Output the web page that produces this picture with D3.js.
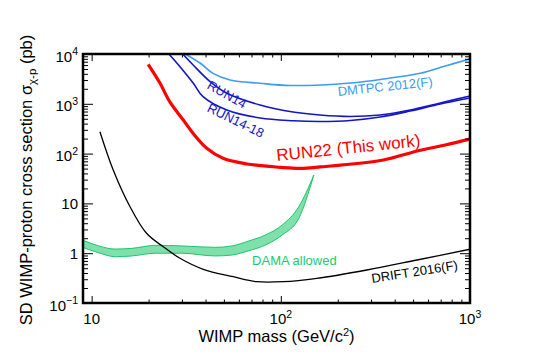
<!doctype html>
<html>
<head>
<script src="https://cdn.jsdelivr.net/npm/d3@7"></script>
<style>
body { margin: 0; background: #fff; }
svg { display: block; font-family: "Liberation Sans", Arial, sans-serif; }
</style>
</head>
<body>
<svg width="554" height="358"></svg>
<script>
// limits, mass in GeV/c^2, cross section in pb
var dmtpcMass  = [31.2, 37.4, 43.8, 53.9, 77.7, 112, 233, 379, 546, 740, 1000];
var dmtpcSigma = [10000, 6590, 4090, 3010, 2580, 2330, 2620, 3300, 4090, 5740, 7940];

var run14Mass  = [30.3, 34.4, 42.3, 51.8, 77.7, 116, 161, 233, 335, 483, 697, 1000];
var run14Sigma = [10000, 6010, 2780, 1630, 946, 684, 595, 556, 595, 751, 1040, 1440];

var run1418Mass  = [25.6, 29.3, 34.4, 38.8, 51.8, 77.7, 116, 161, 233, 335, 483, 697, 1000];
var run1418Sigma = [10000, 5560, 2620, 1390, 751, 519, 458, 442, 462, 543, 717, 990, 1310];

var run22Mass  = [19.9, 23.0, 25.9, 30.5, 34.4, 40.6, 49.5, 66.1, 99.2, 126, 161, 348, 526, 740, 1000];
var run22Sigma = [6210, 2580, 1090, 473, 254, 128, 80.5, 61.9, 53.1, 50.5, 53.9, 74.3, 113, 149, 196];

var driftMass  = [11.06, 13.0, 15.95, 19.5, 23.9, 29.3, 38.9, 56.1, 74.6, 103, 155, 285, 525, 1000];
var driftSigma = [275, 46.9, 8.59, 2.51, 1.35, 0.79, 0.475, 0.337, 0.268, 0.268, 0.313, 0.46, 0.73, 1.20];

var damaMass = [8.9, 10.9, 13.3, 16.3, 21.7, 30.0, 45.1, 55.2, 67.7, 82.9, 101.6, 124.5, 149.5];
var damaHigh = [1.85, 1.40, 1.21, 1.25, 1.44, 1.40, 1.31, 1.40, 1.76, 2.32, 3.68, 8.59, 37.2];
var damaLow  = [1.32, 1.02, 0.85, 0.88, 1.00, 1.00, 0.88, 0.92, 1.12, 1.46, 2.32, 5.02, 37.2];

var xMajor = [10, 100, 1000];
var xLabels = [["10", null], ["10", "2"], ["10", "3"]];
var yMajor = [0.1, 1, 10, 100, 1000, 10000];
var yLabels = [["10", "\u22121"], ["1", null], ["10", null], ["10", "2"], ["10", "3"], ["10", "4"]];

var svg = d3.select("svg");
var xScale = d3.scaleLog().domain([9, 1000]).range([83, 470]);
var yScale = d3.scaleLog().domain([0.1, 10000]).range([303, 54]);

function minorTicks(scale) {
  var dom = scale.domain(), out = [];
  for (var d = 0.01; d <= 10000; d *= 10) {
    for (var k = 2; k <= 9; k++) {
      var v = +(k * d).toPrecision(3);
      if (v >= dom[0] && v <= dom[1]) out.push(v);
    }
  }
  return out;
}

svg.append("defs").append("clipPath").attr("id", "plot")
  .append("rect").attr("x", 83).attr("y", 54).attr("width", 387).attr("height", 249);

var plot = svg.append("g").attr("clip-path", "url(#plot)");

// DAMA band
var band = d3.area()
  .x(function(d) { return xScale(d.m); })
  .y0(function(d) { return yScale(d.lo); })
  .y1(function(d) { return yScale(d.hi); })
  .curve(d3.curveMonotoneX);
var damaRows = damaMass.map(function(m, i) { return {m: m, lo: damaLow[i], hi: damaHigh[i]}; });
plot.append("path")
  .attr("d", band(damaRows))
  .attr("fill", "#7fe0ab")
  .attr("stroke", "#1fc46c")
  .attr("stroke-width", 1);

var line = d3.line()
  .x(function(d) { return xScale(d[0]); })
  .y(function(d) { return yScale(d[1]); })
  .curve(d3.curveCatmullRom);

function drawLimit(mass, sigma, color, width) {
  plot.append("path")
    .attr("d", line(d3.zip(mass, sigma)))
    .attr("fill", "none")
    .attr("stroke", color)
    .attr("stroke-width", width);
}
drawLimit(driftMass, driftSigma, "#000", 1.3);
drawLimit(dmtpcMass, dmtpcSigma, "#3d9cf2", 1.6);
drawLimit(run14Mass, run14Sigma, "#1515c8", 1.6);
drawLimit(run1418Mass, run1418Sigma, "#1515c8", 1.6);
drawLimit(run22Mass, run22Sigma, "#ff0000", 3.2);

// ticks on all four sides, pointing inward
function ticks(axis, scale, vals, size, tx, ty) {
  var g = svg.append("g").attr("transform", "translate(" + tx + "," + ty + ")")
    .call(axis(scale).tickValues(vals).tickSize(-size).tickFormat(""));
  g.select(".domain").remove();
  g.selectAll("line").attr("stroke", "#000").attr("stroke-width", 1);
}
ticks(d3.axisBottom, xScale, xMajor, 7, 0, 303);
ticks(d3.axisBottom, xScale, minorTicks(xScale), 3.5, 0, 303);
ticks(d3.axisTop, xScale, xMajor, 7, 0, 54);
ticks(d3.axisTop, xScale, minorTicks(xScale), 3.5, 0, 54);
ticks(d3.axisLeft, yScale, yMajor, 10, 83, 0);
ticks(d3.axisLeft, yScale, minorTicks(yScale), 5, 83, 0);
ticks(d3.axisRight, yScale, yMajor, 10, 470, 0);
ticks(d3.axisRight, yScale, minorTicks(yScale), 5, 470, 0);

svg.append("rect")
  .attr("x", 83).attr("y", 54).attr("width", 387).attr("height", 249)
  .attr("fill", "none").attr("stroke", "#000").attr("stroke-width", 2.5);

// tick labels
function powLabel(sel, lab) {
  sel.text(lab[0]);
  if (lab[1]) sel.append("tspan").attr("dy", -6.5).attr("font-size", 10.5).text(lab[1]);
}
yMajor.forEach(function(v, i) {
  var t = svg.append("text")
    .attr("x", 78)
    .attr("y", yScale(v) + (yLabels[i][1] ? 7.5 : 5.5))
    .attr("text-anchor", "end")
    .attr("font-size", 15);
  powLabel(t, yLabels[i]);
});
xMajor.forEach(function(v, i) {
  var t = svg.append("text")
    .attr("x", xScale(v))
    .attr("y", 324)
    .attr("text-anchor", "middle")
    .attr("font-size", 15);
  powLabel(t, xLabels[i]);
});

// axis titles
var xt = svg.append("text")
  .attr("x", 276.5).attr("y", 342)
  .attr("text-anchor", "middle")
  .attr("font-size", 16.5)
  .text("WIMP mass (GeV/c");
xt.append("tspan").attr("dy", -6.5).attr("font-size", 11).text("2");
xt.append("tspan").attr("dy", 6.5).text(")");

var yt = svg.append("text")
  .attr("transform", "translate(32,180) rotate(-90)")
  .attr("text-anchor", "middle")
  .attr("font-size", 16.5)
  .text("SD WIMP-proton cross section \u03c3");
yt.append("tspan").attr("dy", 4).attr("font-size", 11.5).text("\u03c7-p");
yt.append("tspan").attr("dy", -4).text(" (pb)");

// curve labels, anchored in data units
var notes = [
  {text: "DMTPC 2012(F)", m: 201, s: 1440, angle: -6, color: "#3d9cf2", size: 13},
  {text: "RUN14", m: 40.3, s: 2070, angle: 29, color: "#1515c8", size: 13},
  {text: "RUN14-18", m: 40.3, s: 717, angle: 26, color: "#1515c8", size: 13},
  {text: "RUN22 (This work)", m: 95.5, s: 71, angle: -6, color: "#ff0000", size: 17},
  {text: "DAMA allowed", m: 70.5, s: 0.58, angle: 0, color: "#22c972", size: 13},
  {text: "DRIFT 2016(F)", m: 304, s: 0.252, angle: -9, color: "#000", size: 13}
];
svg.selectAll("text.note")
  .data(notes)
  .enter()
  .append("text")
  .attr("class", "note")
  .attr("transform", function(d) {
    return "translate(" + xScale(d.m) + "," + yScale(d.s) + ") rotate(" + d.angle + ")";
  })
  .attr("font-size", function(d) { return d.size; })
  .attr("fill", function(d) { return d.color; })
  .text(function(d) { return d.text; });
</script>
</body>
</html>
